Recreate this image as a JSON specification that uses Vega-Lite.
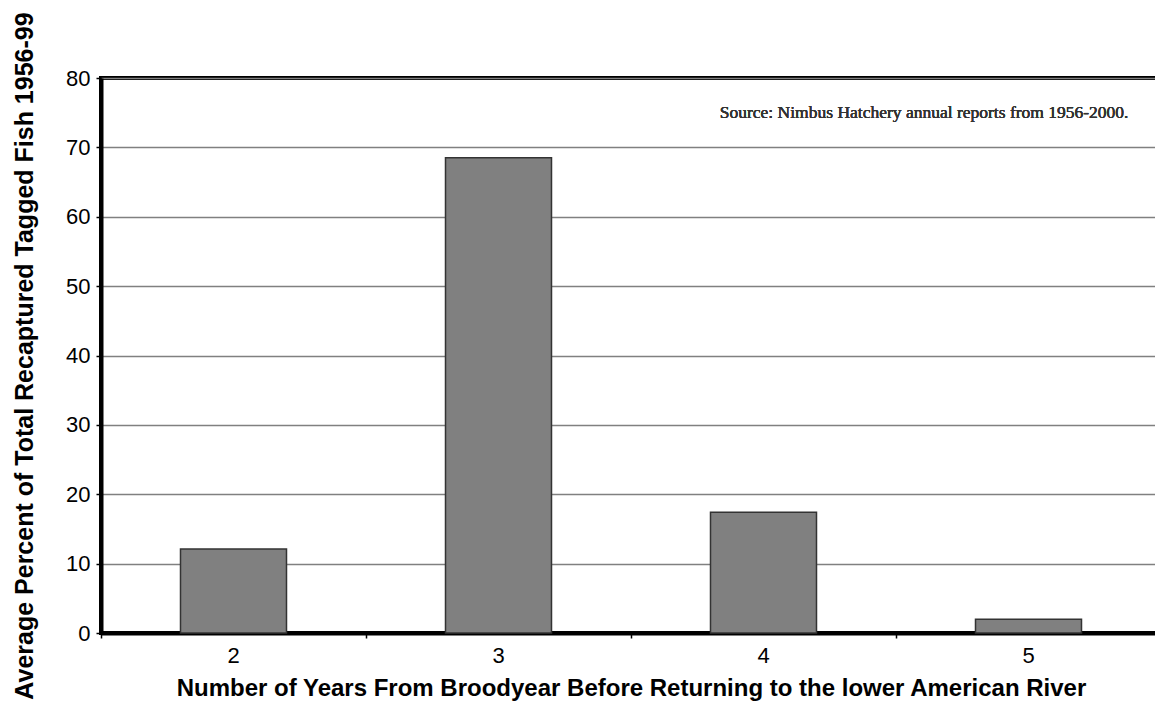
{
  "$schema": "https://vega.github.io/schema/vega-lite/v6.json",
  "autosize": "none",
  "padding": {"left": 101, "top": 78, "right": 0, "bottom": 76},
  "width": 1060,
  "height": 555,
  "background": "white",
  "config": {
    "view": {"stroke": "black", "strokeWidth": 4},
    "font": "Liberation Sans"
  },
  "data": {
    "values": [
      {"years": "2", "percent": 12.1},
      {"years": "3", "percent": 68.5},
      {"years": "4", "percent": 17.4},
      {"years": "5", "percent": 2.0}
    ]
  },
  "layer": [
    {
      "mark": {"type": "bar", "fill": "#808080", "stroke": "#333333", "strokeWidth": 1.5, "width": {"band": 0.4}},
      "encoding": {
        "x": {
          "field": "years", "type": "ordinal",
          "scale": {"paddingInner": 0, "paddingOuter": 0},
          "axis": {
            "title": "Number of Years From Broodyear Before Returning to the lower American River",
            "titleFont": "Liberation Sans", "titleFontSize": 24, "titleFontWeight": "bold", "titleColor": "black",
            "titlePadding": 10,
            "labelAngle": 0, "labelFontSize": 22, "labelColor": "black", "labelPadding": 7,
            "domainColor": "black", "domainWidth": 4,
            "tickColor": "black", "tickSize": 5, "tickWidth": 1.5, "bandPosition": 0,
            "grid": false
          }
        },
        "y": {
          "field": "percent", "type": "quantitative",
          "scale": {"domain": [0, 80], "nice": false},
          "axis": {
            "title": "Average Percent of Total Recaptured Tagged Fish 1956-99",
            "titleFont": "Liberation Sans", "titleFontSize": 25, "titleFontWeight": "bold", "titleColor": "black",
            "titlePadding": 28,
            "values": [0, 10, 20, 30, 40, 50, 60, 70, 80],
            "labelFontSize": 22, "labelColor": "black", "labelPadding": 6,
            "domainColor": "black", "domainWidth": 4,
            "tickColor": "black", "tickSize": 5, "tickWidth": 1.5,
            "grid": true, "gridColor": "#808080", "gridWidth": 1.5
          }
        }
      }
    },
    {
      "mark": {"type": "text", "align": "right", "baseline": "middle", "font": "Liberation Serif", "fontSize": 17.5, "color": "#333333", "xOffset": 100},
      "encoding": {
        "x": {"datum": "5", "type": "ordinal"},
        "y": {"datum": 75, "type": "quantitative"},
        "text": {"value": "Source: Nimbus Hatchery annual reports from 1956-2000."}
      }
    }
  ]
}
